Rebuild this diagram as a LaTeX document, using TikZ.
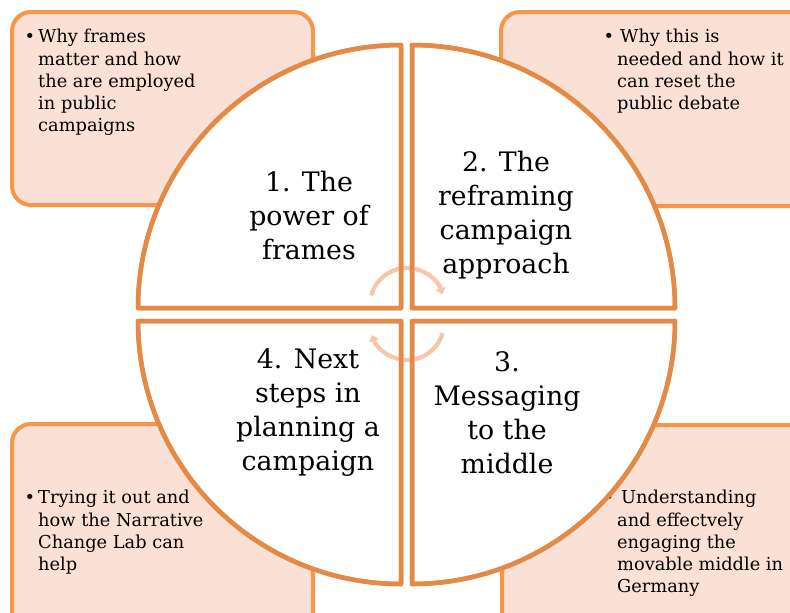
\documentclass[tikz,border=0pt]{standalone}
\usepackage{fontspec}
\setmainfont{DejaVu Serif}
\usetikzlibrary{arrows.meta}
\definecolor{ringline}{RGB}{228,138,70}
\definecolor{boxline}{RGB}{247,150,70}
\definecolor{boxfill}{RGB}{251,224,214}
\definecolor{arrowpeach}{RGB}{247,198,168}
\tikzstyle{notebox} = [draw=boxline, fill=boxfill, line width=4pt, rounded corners=19pt]
\tikzstyle{quarter} = [draw=ringline, fill=white, line width=4.5pt, line join=round]
\tikzstyle{bullettext} = [inner sep=0pt, align=left, font=\fontsize{17.8}{22.3}\selectfont]
\tikzstyle{bigtext} = [inner sep=0pt, align=center, font=\fontsize{26.8}{34}\selectfont]
\tikzstyle{cyclearrow} = [draw=arrowpeach, line width=4.2pt, -{Triangle[length=6pt,width=10pt]}]

\begin{document}
\begin{tikzpicture}[x=1pt, y=-1pt]

\useasboundingbox (0,0) rectangle (790,613);
\clip (0,0) rectangle (790,613);

% ===== NOTE BOXES =====
\draw [notebox] (12,12) rectangle (313,205);
\draw [notebox] (501,12) rectangle (830,206);
\draw [notebox] (12,424) rectangle (313,650);
\draw [notebox] (502,425) rectangle (830,650);

% Notes
\node (notea) [bullettext, anchor=north west] at (38,29) {\llap{\textbullet\hspace{3pt}}Why frames\\matter and how\\the are employed\\in public\\campaigns};
\node (noteb) [bullettext, anchor=north west] at (617,29) {\llap{\textbullet\hspace{3pt}}\hspace{3pt}Why this is\\needed and how it\\can reset the\\public debate};
\node (notec) [bullettext, anchor=north west] at (38,490) {\llap{\textbullet\hspace{3pt}}Trying it out and\\how the Narrative\\Change Lab can\\help};
\node (noted) [bullettext, anchor=north west] at (617,490) {\llap{\textbullet\hspace{3pt}}\hspace{4pt}Understanding\\and effectvely\\engaging the\\movable middle in\\Germany};

% ===== QUARTERS =====
\filldraw [quarter] (401,308) -- (138,308) arc[start angle=180, end angle=90, radius=263pt] -- cycle;
\filldraw [quarter] (412,308) -- (412,45) arc[start angle=90, end angle=0, radius=263pt] -- cycle;
\filldraw [quarter] (412,321) -- (675,321) arc[start angle=0, end angle=-90, radius=263pt] -- cycle;
\filldraw [quarter] (401,321) -- (401,584) arc[start angle=-90, end angle=-180, radius=263pt] -- cycle;

% Cycle arrows
\coordinate (upc) at (407,305);
\coordinate (lowc) at (407,323);
\draw [cyclearrow] (upc) ++(165:37pt) arc[start angle=165, end angle=17, radius=37pt];
\draw [cyclearrow] (lowc) ++(-16:37pt) arc[start angle=-16, end angle=-161, radius=37pt];

% Outlines again over the arrows
\draw [quarter, fill=none] (401,308) -- (138,308) arc[start angle=180, end angle=90, radius=263pt] -- cycle;
\draw [quarter, fill=none] (412,308) -- (412,45) arc[start angle=90, end angle=0, radius=263pt] -- cycle;
\draw [quarter, fill=none] (412,321) -- (675,321) arc[start angle=0, end angle=-90, radius=263pt] -- cycle;
\draw [quarter, fill=none] (401,321) -- (401,584) arc[start angle=-90, end angle=-180, radius=263pt] -- cycle;

% Titles
\node (power) [bigtext] at (309,216) {1. The\\power of\\frames};
\node (reframe) [bigtext] at (506,215) {2. The\\reframing\\campaign\\approach};
\node (middle) [bigtext] at (507,413) {3.\\Messaging\\to the\\middle};
\node (next) [bigtext] at (308,413) {4. Next\\steps in\\planning a\\campaign};

\end{tikzpicture}
\end{document}
